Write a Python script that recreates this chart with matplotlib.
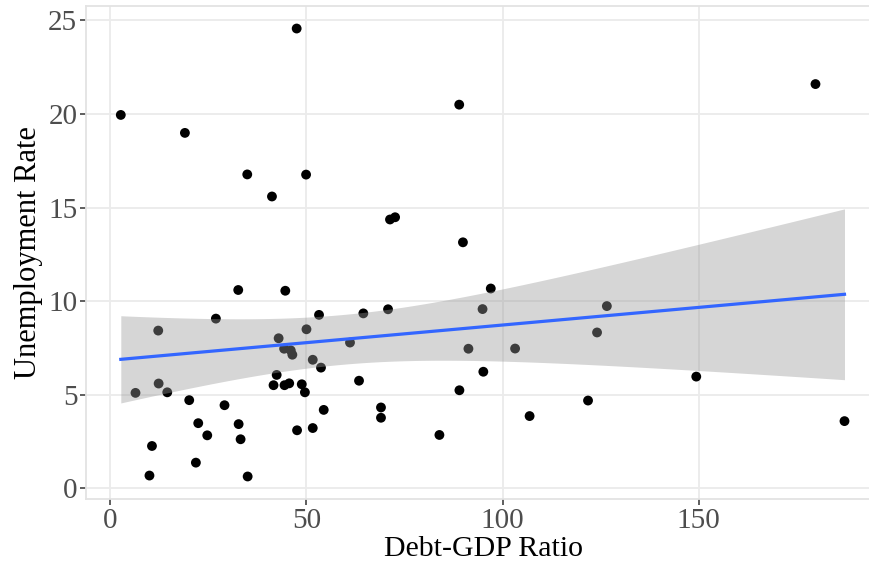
import numpy as np
import matplotlib
matplotlib.use("Agg")
import matplotlib.pyplot as plt

# values
debt_gdp = [47.5, 2.65, 19.0, 34.9, 49.9, 41.2,
            88.95, 179.8, 71.3, 72.6, 89.9,
            32.6, 44.6, 26.9, 53.2, 64.5, 12.2, 50.0, 42.9, 44.3, 46.0,
            46.4, 61.1, 51.6, 53.7, 42.4, 63.4, 41.6, 44.4, 45.6, 48.8,
            49.6, 12.3, 6.4, 14.5, 20.1, 29.1, 54.4, 69.0, 69.0, 22.4,
            32.7, 24.7, 33.2, 47.6, 51.6, 10.6, 21.8, 9.96, 35.0,
            70.8, 97.0, 94.9, 126.6, 124.1, 91.3, 103.2, 95.1, 89.0,
            149.4, 121.8, 106.9, 83.9, 187.2]
unemployment = [24.57, 19.95, 18.99, 16.77, 16.76, 15.59,
                20.5, 21.6, 14.36, 14.48, 13.14,
                10.59, 10.55, 9.06, 9.26, 9.34, 8.42, 8.49, 8.01, 7.45, 7.36,
                7.13, 7.78, 6.86, 6.44, 6.05, 5.74, 5.50, 5.50, 5.60, 5.55,
                5.12, 5.59, 5.09, 5.12, 4.70, 4.43, 4.18, 4.31, 3.76, 3.47,
                3.42, 2.82, 2.61, 3.09, 3.21, 2.25, 1.36, 0.67, 0.62,
                9.56, 10.67, 9.57, 9.73, 8.32, 7.45, 7.46, 6.22, 5.23,
                5.96, 4.68, 3.85, 2.84, 3.58]

x_ticks = [0, 50, 100, 150]
y_ticks = [0, 5, 10, 15, 20, 25]

x = np.array(debt_gdp)
y = np.array(unemployment)

# linear fit with 95% confidence band (like geom_smooth(method="lm"))
n = len(x)
slope, intercept = np.polyfit(x, y, 1)
resid = y - (intercept + slope * x)
s = np.sqrt(np.sum(resid ** 2) / (n - 2))
t_crit = 1.999  # t(0.975, df=62)
xs = np.linspace(x.min(), x.max(), 200)
fit = intercept + slope * xs
se = s * np.sqrt(1 / n + (xs - x.mean()) ** 2 / np.sum((x - x.mean()) ** 2))

plt.rcParams['font.family'] = ['Liberation Serif', 'DejaVu Serif']

fig = plt.figure(figsize=(8.7, 5.69), dpi=100)
ax = fig.add_axes([0.0985, 0.1225, 1.0126 - 0.0985, 0.8678])

ax.scatter(x, y, s=50, color='black', edgecolors='none', zorder=3)
ax.fill_between(xs, fit - t_crit * se, fit + t_crit * se,
                color='#999999', alpha=0.4, linewidth=0, zorder=4)
ax.plot(xs, fit, color='#3366FF', linewidth=2.3, zorder=5)

ax.set_xlim(-6.3, 196.5)
ax.set_ylim(-0.6, 25.8)
ax.set_xticks(x_ticks)
ax.set_yticks(y_ticks)

ax.grid(True, color='#EBEBEB', linewidth=1.3, zorder=0)
ax.set_axisbelow(True)
for side in ['left', 'bottom', 'top', 'right']:
    ax.spines[side].set_color('#E3E3E3')
    ax.spines[side].set_linewidth(1.3)

ax.tick_params(axis='both', colors='#333333', length=4, width=1.1,
               labelsize=21, labelcolor='#4D4D4D', pad=2)

ax.set_xlabel('Debt-GDP Ratio', fontsize=21.5, color='black', labelpad=2)
ax.set_ylabel('Unemployment Rate', fontsize=22, color='black', labelpad=4)

fig.savefig('out.png', dpi=100)
